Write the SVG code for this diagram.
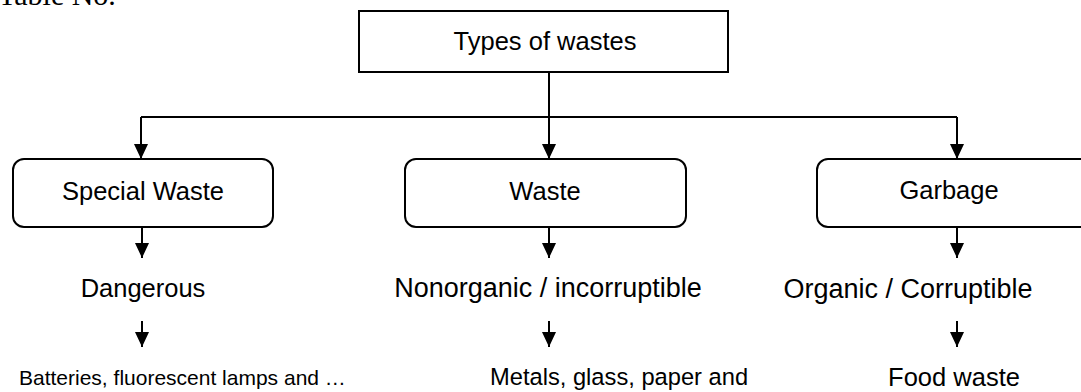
<svg xmlns="http://www.w3.org/2000/svg" width="1081" height="392" viewBox="0 0 1081 392">
<style>
.box{fill:#fff;stroke:#000;stroke-width:2}
.t{font-family:"Liberation Sans",Arial,sans-serif;font-size:25.5px;fill:#000;text-anchor:middle}
.s{font-family:"Liberation Sans",Arial,sans-serif;font-size:22px;fill:#000}
.c{fill:none;stroke:#000;stroke-width:2}
</style>
<defs>
<marker id="ah" markerUnits="userSpaceOnUse" markerWidth="16" markerHeight="16" refX="15" refY="7" orient="auto">
<path d="M0,0 L15,7 L0,14 z" fill="#000"/>
</marker>
</defs>
<rect width="1081" height="392" fill="#fff"/>
<text x="-2" y="5" font-family="'Liberation Serif','Times New Roman',serif" font-size="30">Table No.</text>
<g id="connectors">
<path class="c" d="M549,72 V117"/>
<path class="c" d="M141,117 H957"/>
<path class="c" d="M141,117 V159" marker-end="url(#ah)"/>
<path class="c" d="M549,117 V159" marker-end="url(#ah)"/>
<path class="c" d="M957,117 V159" marker-end="url(#ah)"/>
<path class="c" d="M142,227 V258" marker-end="url(#ah)"/>
<path class="c" d="M549,227 V258" marker-end="url(#ah)"/>
<path class="c" d="M957,227 V258" marker-end="url(#ah)"/>
<path class="c" d="M142,321 V347" marker-end="url(#ah)"/>
<path class="c" d="M549,321 V347" marker-end="url(#ah)"/>
<path class="c" d="M957,321 V347" marker-end="url(#ah)"/>
</g>
<g id="types">
<rect class="box" x="359" y="11" width="369" height="61"/>
<text class="t" x="545" y="50">Types of wastes</text>
</g>
<g id="special">
<rect class="box" x="13" y="159" width="260" height="68" rx="11"/>
<text class="t" x="143" y="200">Special Waste</text>
</g>
<g id="waste">
<rect class="box" x="405" y="159" width="281" height="68" rx="11"/>
<text class="t" x="545" y="200">Waste</text>
</g>
<g id="garbage">
<rect class="box" x="817" y="159" width="280" height="68" rx="11"/>
<text class="t" x="949" y="199">Garbage</text>
</g>
<g id="dangerous"><text class="t" x="143" y="297">Dangerous</text></g>
<g id="nonorganic"><text class="t" x="548" y="297" style="font-size:27px">Nonorganic / incorruptible</text></g>
<g id="organic"><text class="t" x="908" y="298" style="font-size:27px">Organic / Corruptible</text></g>
<g id="batteries"><text class="s" x="19" y="385" style="font-size:21px">Batteries, fluorescent lamps and …</text></g>
<g id="metals"><text class="s" x="490" y="385" style="font-size:23.7px">Metals, glass, paper and</text></g>
<g id="food"><text class="t" x="954" y="386">Food waste</text></g>
</svg>
